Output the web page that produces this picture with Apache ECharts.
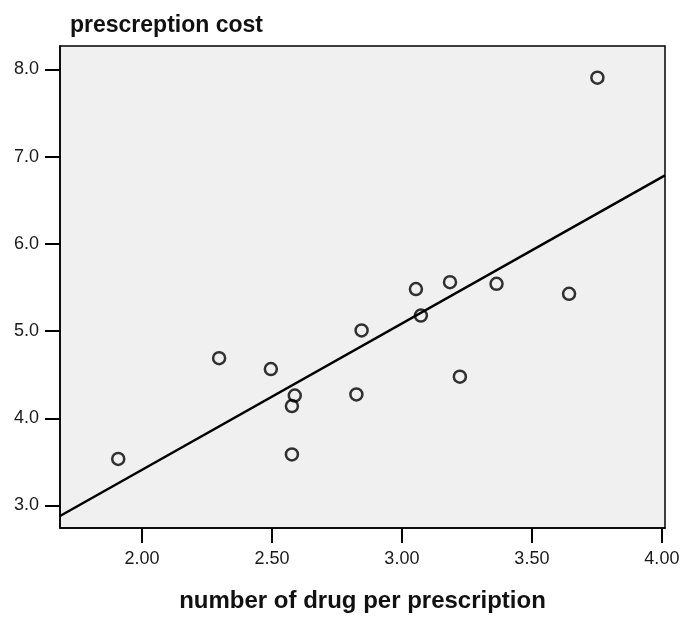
<!DOCTYPE html>
<html>
<head>
<meta charset="utf-8">
<script src="https://cdn.jsdelivr.net/npm/echarts@6/dist/echarts.min.js"></script>
<style>
  html, body { margin: 0; padding: 0; background: #ffffff; }
  #chart { width: 686px; height: 618px; }
</style>
</head>
<body>
<div id="chart"></div>
<script>
// Number of drugs per prescription vs. prescription cost
const drugsPerPrescription = [1.909, 2.297, 2.496, 2.588, 2.577, 2.577, 2.825, 2.845, 3.054, 3.073, 3.185, 3.223, 3.364, 3.643, 3.752];
const prescriptionCost    = [3.534, 4.689, 4.564, 4.261, 4.140, 3.586, 4.273, 5.007, 5.481, 5.177, 5.560, 4.477, 5.541, 5.427, 7.905];

const xTickValues = [2.0, 2.5, 3.0, 3.5, 4.0];
const yTickValues = [3.0, 4.0, 5.0, 6.0, 7.0, 8.0];

const xRange = [1.685, 4.012];
const yRange = [2.742, 8.268];

const FONT = "'Liberation Sans', Arial, sans-serif";

// Least-squares fit line through the points
function linearFit(xs, ys) {
  const n = xs.length;
  const mx = xs.reduce((a, b) => a + b, 0) / n;
  const my = ys.reduce((a, b) => a + b, 0) / n;
  let sxy = 0, sxx = 0;
  for (let i = 0; i < n; i++) {
    sxy += (xs[i] - mx) * (ys[i] - my);
    sxx += (xs[i] - mx) * (xs[i] - mx);
  }
  const slope = sxy / sxx;
  return { slope, intercept: my - slope * mx };
}
const fit = linearFit(drugsPerPrescription, prescriptionCost);
const fitLine = xRange.map(x => [x, fit.intercept + fit.slope * x]);

const points = drugsPerPrescription.map((x, i) => [x, prescriptionCost[i]]);

const chart = echarts.init(document.getElementById('chart'), null, { renderer: 'canvas' });
chart.setOption({
  animation: false,
  backgroundColor: '#ffffff',
  title: {
    text: 'prescreption cost',
    left: 65,
    top: 9,
    textStyle: { fontFamily: FONT, fontSize: 23, fontWeight: 'bold', color: '#111' }
  },
  grid: {
    left: 60, right: 21, top: 46, bottom: 86,
    show: true,
    backgroundColor: '#f0f0f0',
    borderColor: '#000',
    borderWidth: 1.5
  },
  xAxis: {
    type: 'value',
    min: xRange[0], max: xRange[1],
    name: 'number of drug per prescription',
    nameLocation: 'middle',
    nameGap: 61,
    nameTextStyle: { fontFamily: FONT, fontSize: 24, fontWeight: 'bold', color: '#111' },
    axisLine: { show: true, onZero: false, lineStyle: { color: '#000', width: 1.5 } },
    axisTick: { show: true, inside: false, length: 15, customValues: xTickValues, lineStyle: { color: '#000', width: 2 } },
    axisLabel: {
      customValues: xTickValues,
      margin: 22,
      fontFamily: FONT, fontSize: 18, color: '#1a1a1a',
      formatter: v => v.toFixed(2)
    },
    splitLine: { show: false }
  },
  yAxis: {
    type: 'value',
    min: yRange[0], max: yRange[1],
    axisLine: { show: true, onZero: false, lineStyle: { color: '#000', width: 1.5 } },
    axisTick: { show: true, inside: false, length: 15, customValues: yTickValues, lineStyle: { color: '#000', width: 2 } },
    axisLabel: {
      customValues: yTickValues,
      margin: 21,
      fontFamily: FONT, fontSize: 18, color: '#1a1a1a',
      formatter: v => v.toFixed(1)
    },
    splitLine: { show: false }
  },
  series: [
    {
      type: 'line',
      data: fitLine,
      symbol: 'none',
      silent: true,
      lineStyle: { color: '#000', width: 2.5 },
      z: 2
    },
    {
      type: 'scatter',
      data: points,
      symbol: 'circle',
      symbolSize: 12,
      itemStyle: { color: 'rgba(0,0,0,0)', borderColor: '#000', borderWidth: 2.5 },
      z: 3
    }
  ]
});
</script>
</body>
</html>
